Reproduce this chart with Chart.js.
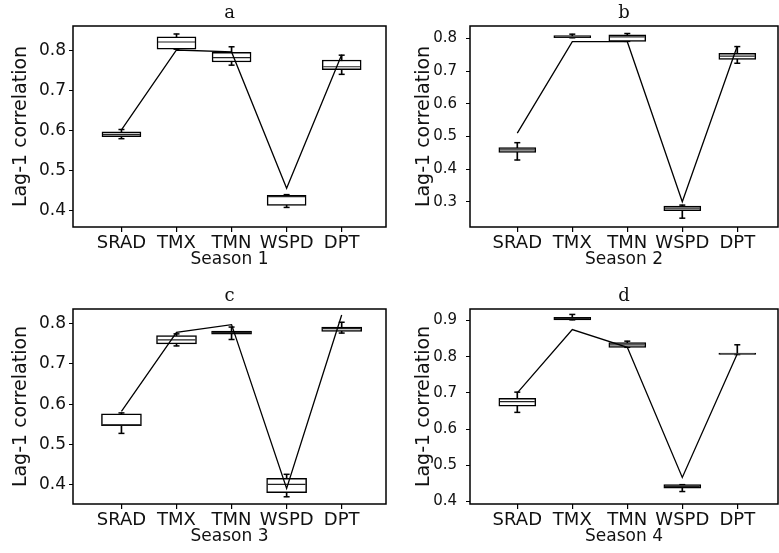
<!DOCTYPE html>
<html>
<head>
<meta charset="utf-8">
<script src="https://cdn.jsdelivr.net/npm/chart.js@4.4.1/dist/chart.umd.min.js"></script>
<style>
  html, body { margin: 0; padding: 0; background: #fff; }
  body { width: 779px; height: 553px; position: relative; overflow: hidden; }
  .panel { position: absolute; }
</style>
</head>
<body>
<div class="panel" id="wa" style="left:0px;top:0px;width:389px;height:276px;"><canvas id="ca"></canvas></div>
<div class="panel" id="wb" style="left:389px;top:0px;width:390px;height:276px;"><canvas id="cb"></canvas></div>
<div class="panel" id="wc" style="left:0px;top:283px;width:389px;height:270px;"><canvas id="cc"></canvas></div>
<div class="panel" id="wd" style="left:389px;top:283px;width:390px;height:270px;"><canvas id="cd"></canvas></div>
<script>
// ---------- data ----------
const categories = ['SRAD', 'TMX', 'TMN', 'WSPD', 'DPT'];
const panelLetters = ['a', 'b', 'c', 'd'];
const seasonTitles = ['Season 1', 'Season 2', 'Season 3', 'Season 4'];
const yAxisTitle = 'Lag-1 correlation';

const yTicks1 = [0.4, 0.5, 0.6, 0.7, 0.8];
const yTicks2 = [0.3, 0.4, 0.5, 0.6, 0.7, 0.8];
const yTicks3 = [0.4, 0.5, 0.6, 0.7, 0.8];
const yTicks4 = [0.4, 0.5, 0.6, 0.7, 0.8, 0.9];

// Season 1
const s1Min    = [0.580, 0.804, 0.764, 0.408, 0.741];
const s1Q1     = [0.585, 0.804, 0.772, 0.413, 0.753];
const s1Median = [0.591, 0.822, 0.783, 0.435, 0.760];
const s1Q3     = [0.597, 0.835, 0.796, 0.438, 0.777];
const s1Max    = [0.603, 0.842, 0.810, 0.440, 0.789];
const s1Obs    = [0.602, 0.802, 0.797, 0.456, 0.790];

// Season 2
const s2Min    = [0.428, 0.802, 0.791, 0.250, 0.724];
const s2Q1     = [0.451, 0.802, 0.791, 0.273, 0.736];
const s2Median = [0.459, 0.805, 0.805, 0.281, 0.746];
const s2Q3     = [0.466, 0.809, 0.811, 0.287, 0.754];
const s2Max    = [0.481, 0.813, 0.815, 0.290, 0.775];
const s2Obs    = [0.510, 0.790, 0.790, 0.300, 0.777];

// Season 3
const s3Min    = [0.527, 0.745, 0.761, 0.369, 0.777];
const s3Q1     = [0.546, 0.750, 0.774, 0.379, 0.781];
const s3Median = [0.548, 0.760, 0.778, 0.400, 0.788];
const s3Q3     = [0.576, 0.771, 0.782, 0.415, 0.792];
const s3Max    = [0.578, 0.775, 0.792, 0.425, 0.804];
const s3Obs    = [0.582, 0.779, 0.798, 0.390, 0.822];

// Season 4
const s4Min    = [0.646, 0.902, 0.826, 0.427, 0.806];
const s4Q1     = [0.663, 0.902, 0.826, 0.436, 0.806];
const s4Median = [0.676, 0.906, 0.833, 0.441, 0.808];
const s4Q3     = [0.685, 0.909, 0.839, 0.446, 0.810];
const s4Max    = [0.702, 0.917, 0.843, 0.446, 0.833];
const s4Obs    = [0.700, 0.875, 0.826, 0.466, 0.808];

// ---------- layout config ----------
const FONT = "'DejaVu Sans', sans-serif";
const panels = [
  { canvas: 'ca', min: s1Min, q1: s1Q1, med: s1Median, q3: s1Q3, max: s1Max, obs: s1Obs, yTicks: yTicks1,
    yMin: 0.359, yMax: 0.862, xMin: 0.12, xMax: 5.805, yWidth: 73, padRight: 3,
    boxW: 39, yTickFont: 17, yTickPad: 3, yTitlePad: 10 },
  { canvas: 'cb', min: s2Min, q1: s2Q1, med: s2Median, q3: s2Q3, max: s2Max, obs: s2Obs, yTicks: yTicks2,
    yMin: 0.223, yMax: 0.838, xMin: 0.14, xMax: 5.74, yWidth: 81, padRight: 1,
    boxW: 37, yTickFont: 15, yTickPad: 9, yTitlePad: 24 },
  { canvas: 'cc', min: s3Min, q1: s3Q1, med: s3Median, q3: s3Q3, max: s3Max, obs: s3Obs, yTicks: yTicks3,
    yMin: 0.351, yMax: 0.837, xMin: 0.12, xMax: 5.805, yWidth: 73, padRight: 3,
    boxW: 40, yTickFont: 17, yTickPad: 3, yTitlePad: 10 },
  { canvas: 'cd', min: s4Min, q1: s4Q1, med: s4Median, q3: s4Q3, max: s4Max, obs: s4Obs, yTicks: yTicks4,
    yMin: 0.3925, yMax: 0.932, xMin: 0.14, xMax: 5.74, yWidth: 81, padRight: 1,
    boxW: 37, yTickFont: 15, yTickPad: 9, yTitlePad: 24 }
];

const frame = {
  id: 'frame',
  afterDatasetsDraw(chart) {
    const a = chart.chartArea, ctx = chart.ctx;
    ctx.save();
    ctx.strokeStyle = '#000';
    ctx.lineWidth = 1.5;
    ctx.strokeRect(a.left, a.top, a.right - a.left, a.bottom - a.top);
    ctx.restore();
  }
};

panels.forEach((p, i) => {
  const xs = categories.map((_, k) => k + 1);
  const whiskers = xs.map((x, k) => ({ x, y: [p.min[k], p.max[k]] }));
  const boxes = xs.map((x, k) => ({ x, y: [p.q1[k], p.q3[k]] }));
  const medians = xs.map((x, k) => ({ x, y: p.med[k] }));
  const caps = xs.map((x, k) => ({ x, y: p.min[k] })).concat(xs.map((x, k) => ({ x, y: p.max[k] })));
  const obs = xs.map((x, k) => ({ x, y: p.obs[k] }));

  new Chart(document.getElementById(p.canvas), {
    type: 'bar',
    data: {
      datasets: [
        { type: 'line', data: obs, borderColor: '#000', borderWidth: 1.3, pointRadius: 0, tension: 0, order: 0 },
        { type: 'scatter', data: medians, pointStyle: 'line', pointRadius: p.boxW / 2 - 1, borderColor: '#222',
          borderWidth: 1.2, backgroundColor: '#222', order: 1 },
        { type: 'bar', data: boxes, backgroundColor: '#fff', borderColor: '#000', borderWidth: 1.5,
          borderSkipped: false, barThickness: p.boxW, grouped: false, order: 2 },
        { type: 'scatter', data: caps, pointStyle: 'line', pointRadius: 3, borderColor: '#000',
          borderWidth: 1.5, order: 3 },
        { type: 'bar', data: whiskers, backgroundColor: '#000', borderWidth: 0,
          barThickness: 1, grouped: false, order: 4 }
      ]
    },
    options: {
      responsive: true,
      maintainAspectRatio: false,
      animation: false,
      events: [],
      layout: { autoPadding: false, padding: { left: 0, right: p.padRight, top: 0, bottom: 0 } },
      plugins: {
        legend: { display: false },
        tooltip: { enabled: false },
        title: {
          display: true, text: panelLetters[i], fullSize: false,
          color: '#111', font: { family: "'DejaVu Serif', serif", size: 18, weight: 'normal' },
          padding: { top: 3, bottom: 1.4 }
        }
      },
      scales: {
        x: {
          type: 'linear', min: p.xMin, max: p.xMax, offset: false,
          afterFit(scale) { scale.height = 49; scale.paddingLeft = 0; scale.paddingRight = 0; },
          afterBuildTicks(scale) { scale.ticks = xs.map(v => ({ value: v })); },
          ticks: {
            autoSkip: false, maxRotation: 0, padding: 1, color: '#111',
            font: { family: FONT, size: 18 },
            callback: (v) => categories[Math.round(v) - 1] || ''
          },
          grid: { drawOnChartArea: false, drawTicks: true, tickLength: 5, color: '#000', lineWidth: 1.2, offset: false },
          border: { display: false },
          title: { display: true, text: seasonTitles[i], color: '#111', font: { family: FONT, size: 17 },
                   padding: { top: 0, bottom: 6 } }
        },
        y: {
          type: 'linear', min: p.yMin, max: p.yMax,
          afterFit(scale) { scale.width = p.yWidth; scale.paddingTop = 0; scale.paddingBottom = 0; },
          afterBuildTicks(scale) { scale.ticks = p.yTicks.map(v => ({ value: v })); },
          ticks: {
            padding: p.yTickPad, color: '#111', font: { family: FONT, size: p.yTickFont },
            callback: (v) => Number(v).toFixed(1)
          },
          grid: { drawOnChartArea: false, drawTicks: true, tickLength: 4, color: '#000', lineWidth: 1 },
          border: { display: false },
          title: { display: true, text: yAxisTitle, color: '#111', font: { family: FONT, size: 19 },
                   padding: { top: p.yTitlePad, bottom: 0 } }
        }
      }
    },
    plugins: [frame]
  });
});
</script>
</body>
</html>
